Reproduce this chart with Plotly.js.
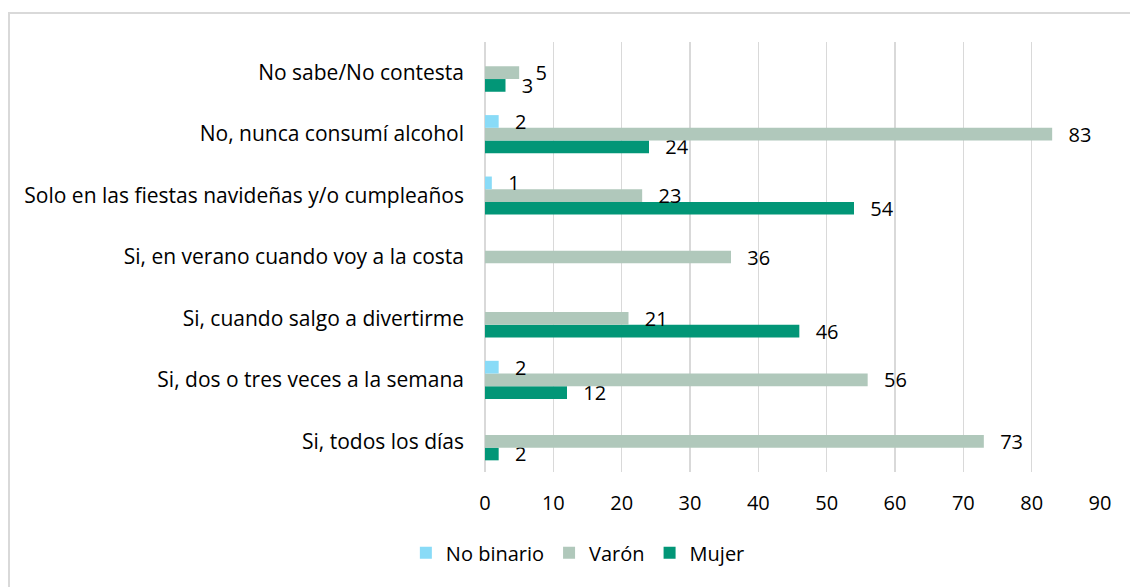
<!DOCTYPE html>
<html>
<head>
<meta charset="utf-8">
<script src="https://cdn.plot.ly/plotly-3.0.1.min.js"></script>
<style>
  html, body { margin: 0; padding: 0; background: #fff; }
  #wrap { position: relative; width: 1130px; height: 587px; overflow: hidden; }
  #chart { position: absolute; left: 0; top: 0; width: 1130px; height: 587px; }
  #frame { position: absolute; left: 8px; top: 12px; width: 1200px; height: 700px;
           border-left: 2px solid #d9d9d9; border-top: 2px solid #d9d9d9; pointer-events: none; }
</style>
</head>
<body>
<div id="wrap">
  <div id="chart"></div>
  <div id="frame"></div>
</div>
<script>
// Categories listed bottom-to-top
const categories = [
  "Si, todos los días",
  "Si, dos o tres veces a la semana",
  "Si, cuando salgo a divertirme",
  "Si, en verano cuando voy a la costa",
  "Solo en las fiestas navideñas y/o cumpleaños",
  "No, nunca consumí alcohol",
  "No sabe/No contesta"
];
const noBinario = [null, 2, null, null, 1, 2, null];
const varon     = [73, 56, 21, 36, 23, 83, 5];
const mujer     = [2, 12, 46, null, 54, 24, 3];
const xTicks    = [0, 10, 20, 30, 40, 50, 60, 70, 80, 90];

const FONT = "Open Sans, Liberation Sans, sans-serif";
const FS = 20;

function mk(name, vals, color) {
  return {
    type: "bar",
    orientation: "h",
    name: name,
    x: vals,
    y: categories,
    marker: { color: color, line: { width: 0 } },
    text: vals.map(v => v === null ? "" : "\u2002\u2009" + v),
    textposition: "outside",
    constraintext: "none",
    cliponaxis: false,
    textfont: { family: FONT, size: FS, color: "#000" },
    hoverinfo: "x+name"
  };
}

const data = [
  mk("Mujer", mujer, "#029677"),
  mk("Varón", varon, "#b0c8bb"),
  mk("No binario", noBinario, "#89dbf7")
];

const layout = {
  width: 1130,
  height: 587,
  margin: { l: 485, r: 30, t: 42, b: 115 },
  paper_bgcolor: "#fff",
  plot_bgcolor: "#fff",
  font: { family: FONT, size: FS, color: "#000" },
  barmode: "group",
  bargap: 0.38,
  bargroupgap: 0,
  showlegend: true,
  legend: {
    orientation: "h",
    traceorder: "reversed",
    x: 0.151, xanchor: "center",
    y: -0.188, yanchor: "middle",
    font: { family: FONT, size: FS, color: "#000" },
    itemclick: false
  },
  xaxis: {
    range: [0, 90],
    tickvals: xTicks,
    ticktext: xTicks.map(String),
    tickfont: { family: FONT, size: FS, color: "#000" },
    showgrid: true,
    gridcolor: "#d9d9d9",
    gridwidth: 1.5,
    zeroline: true,
    zerolinecolor: "#d9d9d9",
    zerolinewidth: 1.5,
    showline: false,
    ticks: "",
    ticklabelstandoff: 17,
    fixedrange: true
  },
  yaxis: {
    type: "category",
    categoryorder: "array",
    categoryarray: categories,
    tickfont: { family: FONT, size: 21, color: "#000" },
    showgrid: false,
    zeroline: false,
    showline: false,
    ticks: "",
    ticklabelstandoff: 20,
    fixedrange: true
  }
};

Plotly.newPlot("chart", data, layout, { displayModeBar: false, staticPlot: true });
</script>
</body>
</html>
